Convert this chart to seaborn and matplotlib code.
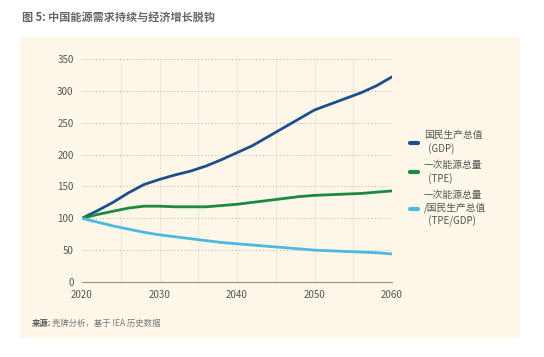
import pandas as pd
import matplotlib.pyplot as plt
import seaborn as sns
from matplotlib.patches import Rectangle

# values (index, 2020 = 100)
years = list(range(2020, 2061, 2))
gdp = [100, 112, 125, 140, 153, 161, 168, 174, 182, 192, 203,
       214, 228, 242, 256, 270, 279, 288, 297, 308, 322]
tpe = [100, 106, 111, 116, 119, 119, 118, 118, 118, 120, 122,
       125, 128, 131, 134, 136, 137, 138, 139, 141, 143]
ratio = [100, 94, 88, 83, 78, 74, 71, 68, 65, 62, 60,
         58, 56, 54, 52, 50, 49, 48, 47, 46, 44]
labels = ['国民生产总值\n  (GDP)', '一次能源总量\n  (TPE)', '一次能源总量\n/国民生产总值\n  (TPE/GDP)']
colors = ['#1c4f8c', '#1b8a3f', '#4cb9e2']

df = pd.DataFrame({'year': years, labels[0]: gdp, labels[1]: tpe, labels[2]: ratio})
long = df.melt(id_vars='year', var_name='series', value_name='value')

sns.set_style('white')
plt.rcParams['font.family'] = ['Noto Sans CJK SC', 'DejaVu Sans']

bg = '#fdf7ea'
fig = plt.figure(figsize=(5.44, 3.57), dpi=100)
fig.patch.set_facecolor('white')
fig.patches.append(Rectangle((20 / 544, 1 - 338 / 357), 500 / 544, 301 / 357,
                             transform=fig.transFigure, facecolor=bg, edgecolor='none', zorder=-5))

ax = fig.add_axes([82 / 544, 1 - 282 / 357, 310 / 544, 223 / 357])
ax.set_zorder(2)
ax.set_facecolor(bg)
sns.lineplot(data=long, x='year', y='value', hue='series', palette=colors,
             linewidth=2, ax=ax, legend=True)

ax.set_xlim(2020, 2060)
ax.set_ylim(0, 350)
ax.set_xticks(range(2020, 2061, 10))
ax.set_yticks(range(0, 351, 50))
for x in range(2025, 2061, 5):
    ax.axvline(x, color='#ece4d2', linewidth=0.6, zorder=0)
for y in range(50, 351, 50):
    ax.axhline(y, color='#b5aa9a', linewidth=0.7, linestyle=(0, (1, 2.5)), zorder=0)
for s in ['top', 'right', 'left']:
    ax.spines[s].set_visible(False)
ax.spines['bottom'].set_color('#999080')
ax.spines['bottom'].set_linewidth(0.8)
ax.tick_params(axis='both', length=0, labelsize=7, colors='#555555', pad=6)
ax.set_xlabel('')
ax.set_ylabel('')

leg = ax.legend(loc='upper left', bbox_to_anchor=(1.03, 0.72), frameon=False,
                fontsize=7, handlelength=0.8, handletextpad=0.6, labelspacing=0.65)
for h in leg.legend_handles:
    h.set_linewidth(3)
for t in leg.get_texts():
    t.set_color('#555555')
    t.set_linespacing(1.3)

fig.text(22 / 544, 1 - 17 / 357, '图 5: 中国能源需求持续与经济增长脱钩', fontsize=8,
         fontweight='bold', color='#666666', va='center')
fig.text(32 / 544, 1 - 323 / 357, '来源:', fontsize=6, fontweight='bold',
         color='#555555', va='center')
fig.text(52 / 544, 1 - 323 / 357, '壳牌分析，基于 IEA 历史数据', fontsize=6,
         color='#777777', va='center')

fig.savefig('out.png', dpi=100, facecolor=fig.get_facecolor())
